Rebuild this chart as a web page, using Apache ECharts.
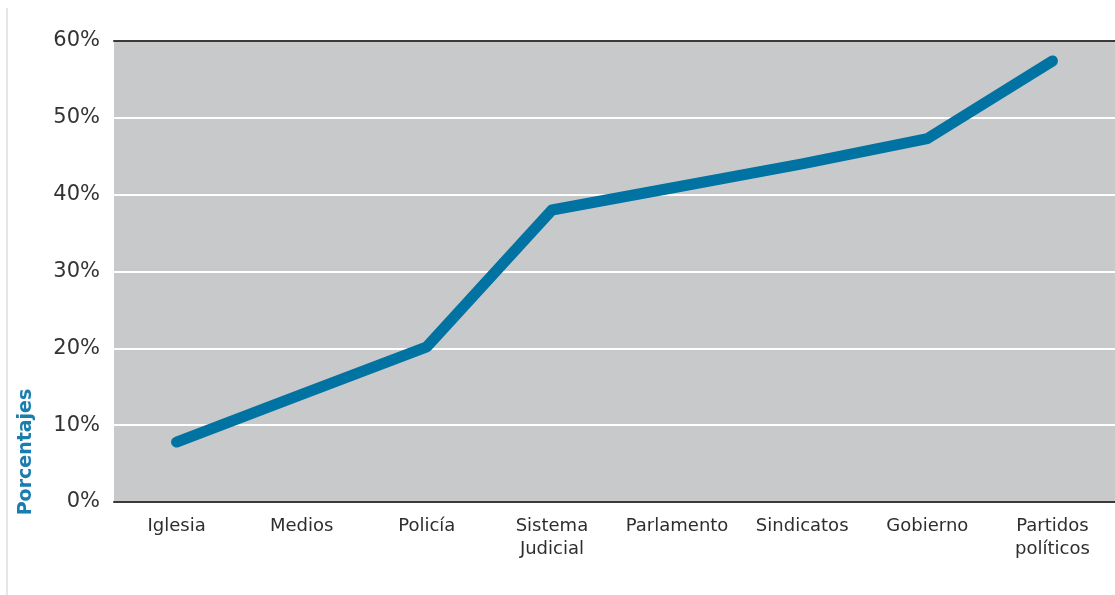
<!DOCTYPE html>
<html>
<head>
<meta charset="utf-8">
<script src="https://cdn.jsdelivr.net/npm/echarts@6/dist/echarts.min.js"></script>
<style>
  html, body { margin: 0; padding: 0; background: #fff; }
  #main { width: 1115px; height: 595px; }
</style>
</head>
<body>
<div id="main"></div>
<script>
// categorías del eje x
var categorias = ['Iglesia', 'Medios', 'Policía', 'Sistema\nJudicial', 'Parlamento', 'Sindicatos', 'Gobierno', 'Partidos\npolíticos'];
// valores (%)
var valores = [7.8, 14, 20.2, 38, 41, 44, 47.3, 57.4];
var ticksY = [0, 10, 20, 30, 40, 50, 60];

var chart = echarts.init(document.getElementById('main'), null, { renderer: 'canvas' });

var option = {
  animation: false,
  backgroundColor: '#ffffff',
  grid: {
    left: 114,
    right: -5,
    top: 41,
    bottom: 93,
    show: true,
    backgroundColor: '#c8c9cb',
    borderWidth: 0
  },
  xAxis: [{
    type: 'category',
    data: categorias,
    boundaryGap: true,
    axisLine: { show: true, lineStyle: { color: '#3a3a3a', width: 2 } },
    axisTick: { show: false },
    axisLabel: {
      color: '#2e2e2e',
      fontFamily: 'DejaVu Sans',
      fontSize: 18,
      lineHeight: 23,
      margin: 13,
      interval: 0
    },
    splitLine: { show: false }
  }, {
    // línea oscura superior (60%)
    type: 'category',
    position: 'top',
    data: categorias,
    axisLine: { show: true, lineStyle: { color: '#3a3a3a', width: 2 } },
    axisTick: { show: false },
    axisLabel: { show: false }
  }],
  yAxis: {
    type: 'value',
    min: ticksY[0],
    max: ticksY[ticksY.length - 1],
    interval: 10,
    axisLine: { show: false },
    axisTick: { show: false },
    axisLabel: {
      formatter: '{value}%',
      color: '#333333',
      fontFamily: 'DejaVu Sans',
      fontSize: 21,
      margin: 14
    },
    splitLine: { show: true, lineStyle: { color: '#ffffff', width: 2 } }
  },
  series: [{
    type: 'line',
    data: valores,
    symbol: 'none',
    lineStyle: { color: '#0073a3', width: 11, cap: 'round', join: 'round' },
    z: 5
  }],
  graphic: [{
    type: 'line',
    shape: { x1: 7, y1: 8, x2: 7, y2: 595 },
    style: { stroke: '#e6e6e6', lineWidth: 2 }
  }, {
    type: 'text',
    x: 26,
    y: 452,
    rotation: Math.PI / 2,
    style: {
      text: 'Porcentajes',
      fill: '#1a7db0',
      font: 'bold 19px "DejaVu Sans"',
      textAlign: 'center',
      textVerticalAlign: 'middle'
    }
  }]
};

chart.setOption(option);
</script>
</body>
</html>
